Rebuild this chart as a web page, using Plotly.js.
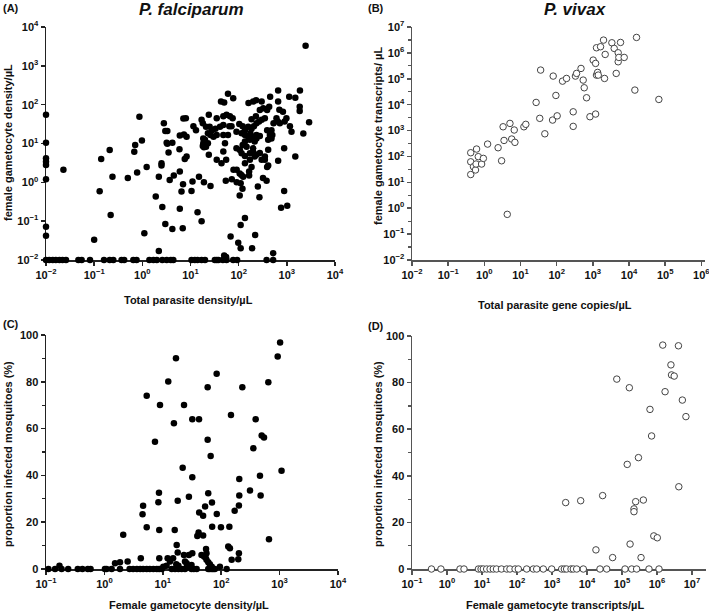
<!DOCTYPE html>
<html>
<head>
<meta charset="utf-8">
<script src="https://cdn.plot.ly/plotly-3.0.1.min.js"></script>
<style>
  html, body { margin: 0; padding: 0; background: #fff; }
  #chart { width: 709px; height: 614px; }
</style>
</head>
<body>
<div id="chart"></div>
<script>
// (A) P. falciparum: total parasite density vs female gametocyte density, [x, y]
const pfDensity = [
    [0.01, 55], [0.01, 10.5], [0.01, 4.2], [0.01, 3.4], [0.01, 2.8], [0.01, 1.2], [0.01, 0.072], [0.01, 0.042],
    [0.023, 2.1], [0.1, 0.033], [0.14, 4.0], [0.13, 0.59], [0.21, 6.8], [0.22, 0.145], [0.24, 1.4], [0.5, 1.3],
    [0.68, 6.1], [0.71, 9.2], [0.78, 1.8], [0.87, 49], [0.98, 12], [1.1, 0.049], [1.23, 2.5], [1.9, 0.43],
    [2.2, 1.4], [2.2, 0.017], [2.5, 2.7], [2.5, 3.1], [2.6, 0.23], [2.8, 33], [3.0, 21], [3.3, 21], [3.0, 0.085],
    [3.2, 10.5], [3.3, 9.8], [3.5, 5.9], [3.7, 1.15], [4.2, 0.063], [4.2, 10.5], [4.5, 1.5], [5.9, 7.1], [6.0, 16],
    [6.0, 1.9], [6.0, 0.21], [6.5, 0.58], [6.9, 0.066], [7.0, 0.89], [7.1, 44], [8.0, 45], [7.3, 17], [7.6, 4.0],
    [8.3, 4.6], [8.3, 15], [11, 1.05], [10.5, 0.6], [11.5, 28], [13, 22], [14, 0.17], [15, 1.4],
    [2450, 3300], [60, 190], [77, 147], [43, 120], [50, 113], [160, 110], [200, 120], [230, 130], [300, 120],
    [450, 160], [660, 230], [660, 120], [1120, 160], [1500, 150], [1870, 230], [1850, 89], [1850, 69],
    [2900, 35], [2200, 18], [1160, 28], [1250, 20], [980, 45], [830, 66], [700, 74], [880, 7.6], [660, 3.6],
    [1500, 4.6], [880, 0.6], [760, 0.22], [1020, 0.25], [410, 6.9], [350, 4.6], [410, 2.7], [320, 1.3],
    [380, 1.1], [250, 0.78], [270, 0.41], [220, 0.044], [190, 0.02], [520, 0.015], [135, 0.12], [110, 0.08],
    [98, 0.028], [110, 0.02], [68, 0.04], [17, 0.10], [54, 1.1], [78, 2.1], [91, 2.1], [72, 1.2], [91, 1.0],
    [105, 1.7], [114, 1.55], [124, 1.4], [110, 0.95], [120, 0.68], [105, 0.46], [165, 1.9], [165, 1.5],
    [19, 1.0], [26, 0.81], [50, 0.013], [55, 0.012],
    [17, 41], [24, 55], [35, 45], [48, 50], [56, 55], [66, 50], [75, 45], [185, 42], [228, 50], [275, 73],
    [324, 81], [390, 73], [430, 88], [610, 45],
    [18, 33], [21, 27], [25, 27], [28, 22], [33, 24], [41, 27], [48, 30], [64, 28], [71, 28], [103, 32],
    [121, 28], [135, 22], [158, 27], [185, 24], [207, 28], [234, 33], [265, 37], [300, 41], [350, 45],
    [390, 22], [480, 22], [530, 33], [650, 37], [716, 33], [900, 37],
    [18.4, 13.5], [20, 12.4], [23, 18.4], [26, 16.5], [30, 15], [35, 16.5], [48, 16.5], [60, 16.5], [90, 20],
    [115, 18.4], [135, 16.5], [158, 15], [175, 18.4], [200, 15], [234, 16.5], [275, 15.5], [444, 16.5],
    [500, 16.5], [410, 12.4], [480, 13.5],
    [18.4, 10.2], [21, 8.3], [23, 10.2], [52, 10.2], [135, 11.2], [171, 12.4], [215, 11.2], [234, 13.5],
    [121, 9.2], [146, 8.3], [200, 7.5], [90, 7.5], [106, 6.8], [18, 8.6], [19, 8], [24, 5.1], [35, 3.8],
    [44, 3.1], [48, 6.2], [55, 3.8], [115, 5.6], [135, 4.8], [171, 5.6], [200, 6.2], [234, 5.1], [275, 5.7],
    [135, 3.1], [171, 3.8], [185, 2.5], [215, 4.6], [300, 3.8], [350, 3.8], [390, 2.5],
    // no gametocytes detected (plotted at the axis floor)
    [0.01, 0.01], [0.0117, 0.01], [0.0138, 0.01], [0.016, 0.01], [0.019, 0.01], [0.022, 0.01], [0.026, 0.01],
    [0.047, 0.01], [0.055, 0.01], [0.082, 0.01], [0.16, 0.01], [0.21, 0.01], [0.25, 0.01], [0.37, 0.01],
    [0.42, 0.01], [0.65, 0.01], [0.76, 0.01], [1.4, 0.01], [1.7, 0.01], [2.0, 0.01], [2.6, 0.01], [3.2, 0.01],
    [3.9, 0.01], [4.4, 0.01], [10.5, 0.01], [12.3, 0.01], [14, 0.01], [17, 0.01], [20, 0.01], [32, 0.01],
    [35, 0.01], [38, 0.01], [47, 0.01], [56, 0.01], [77, 0.01], [93, 0.01], [380, 0.01], [520, 0.01]
];

// (B) P. vivax: total parasite gene copies vs female gametocyte transcripts, [x, y]
const pvCopies = [
    [0.42, 139], [0.42, 62], [0.42, 20], [0.50, 40], [0.57, 30], [0.59, 51], [0.61, 193], [0.68, 98],
    [0.84, 51], [0.94, 84], [1.23, 300], [2.4, 217], [3.0, 68], [3.3, 1400], [3.5, 415], [4.3, 0.58],
    [5.1, 1890], [5.7, 470], [6.7, 1050], [7.0, 350], [12.4, 1400], [14, 1740], [27, 12200], [34, 2960],
    [36, 217000], [47, 750], [77, 2540], [80, 127000], [95, 22700], [103, 3700], [145, 81000], [187, 103000],
    [286, 5300], [286, 1450], [330, 127000], [355, 161000], [470, 251000], [540, 89000], [577, 45000],
    [670, 18500], [830, 3420], [1020, 527000], [1190, 392000], [1190, 4340], [1260, 1580000], [1260, 139000],
    [1350, 176000], [1410, 139000], [1630, 1730000], [1970, 3120000], [2100, 103000], [2190, 872000],
    [3350, 2460000], [3890, 1490000], [4420, 161000], [5010, 1010000], [5010, 454000], [5230, 668000],
    [5820, 2530000], [7350, 668000], [14500, 36600], [16100, 3950000], [66700, 15900]
];

// (C) P. falciparum: female gametocyte density vs % infected mosquitoes, [x, y]
const pfInfection = [
    [1020, 96.8], [927, 90.8], [641, 79.8], [1080, 42.0], [658, 12.7], [16.8, 90.1], [12.4, 80.1], [83.6, 83.4],
    [58.6, 77.7], [230, 77.7], [5.3, 74.0], [8.95, 70.1], [23.1, 70.1], [15.5, 62.3], [32, 64.0], [41.7, 64.0],
    [147, 65.8], [389, 64.0], [7.35, 54.4], [58.6, 55.2], [493, 57.0], [541, 56.2], [66, 48.3], [355, 51.6],
    [21.9, 43.3], [32, 39.2], [461, 39.9], [204, 38.5], [8.6, 32.6], [60, 32.4], [311, 33.5], [473, 31.4],
    [8.4, 28.5], [18, 29.2], [28, 30.9], [69.5, 28.4], [204, 31.4], [4.6, 27.0], [201, 27.1], [53, 26.7],
    [4.5, 23.4], [42, 24.1], [49, 22.8], [170, 24.9], [84, 23.5], [5.3, 17.8], [8.7, 16.7], [16, 16.7],
    [70, 18.1], [99, 17.8], [138, 18.1], [2.1, 14.6], [41, 15.6], [39, 14.1], [49, 14.3], [17.3, 10.3],
    [18, 7.0], [55, 8.6], [56, 6.7], [132, 9.6], [141, 8.9], [201, 6.7], [151, 3.9], [196, 4.2], [32, 6.7],
    [28, 6.0], [23, 6.0], [24, 3.2], [25.6, 2.5], [12.1, 4.6], [13.3, 3.2], [15, 4.6], [8.7, 4.6], [4.2, 4.6],
    [1.52, 2.5], [1.85, 2.9], [2.5, 3.2], [46, 6.0], [51, 5.3], [56, 3.9], [60, 2.9], [64, 2.0], [69, 1.0],
    [54, 4.9], [17, 2.0], [18.5, 1.4], [26, 1.4], [28, 1.0], [31, 1.7], [0.17, 1.4], [95, 1.0], [10.2, 1.0],
    [11.6, 1.4],
    [0.11, 0], [0.143, 0], [0.185, 0], [0.24, 0], [0.35, 0], [0.42, 0], [0.52, 0], [0.58, 0], [1.02, 0],
    [1.09, 0], [1.33, 0], [1.85, 0], [2.7, 0], [3.1, 0], [3.6, 0], [4.1, 0], [4.6, 0], [5.3, 0], [6.0, 0],
    [6.9, 0], [7.9, 0], [8.7, 0], [9.6, 0], [14.2, 0], [16.2, 0], [18.5, 0], [21, 0], [24, 0], [31, 0],
    [34, 0], [38, 0], [60, 0], [64, 0], [69, 0], [73, 0], [78, 0], [124, 0]
];

// (D) P. vivax: female gametocyte transcripts vs % infected mosquitoes, [x, y]
const pvInfection = [
    [1.46e6, 96.1], [4.1e6, 95.8], [2.5e6, 87.6], [2.6e6, 83.3], [3.1e6, 82.8], [71000, 81.5], [162000, 77.8],
    [1.7e6, 76.1], [5.3e6, 72.5], [630000, 68.5], [6.7e6, 65.4], [700000, 57.1], [295000, 47.8], [141000, 44.9],
    [4.2e6, 35.3], [28000, 31.5], [2460, 28.5], [6600, 29.3], [246000, 28.9], [407000, 29.6], [220000, 25.8],
    [220000, 24.6], [18000, 8.2], [170000, 10.7], [810000, 14.2], [1.02e6, 13.4], [54000, 4.9], [350000, 4.9],
    [0.36, 0], [0.67, 0], [2.35, 0], [3.06, 0], [7.9, 0], [9.4, 0], [10.9, 0], [13.6, 0], [17, 0], [21, 0],
    [26, 0], [36, 0], [51, 0], [63, 0], [88, 0], [109, 0], [189, 0], [293, 0], [365, 0], [565, 0], [980, 0],
    [1890, 0], [2250, 0], [2620, 0], [3490, 0], [4070, 0], [5070, 0], [7850, 0], [23500, 0], [36500, 0],
    [122000, 0], [189000, 0], [262000, 0], [590000, 0], [1.14e6, 0]
];

// tick exponents for the log axes
const expAx = [-2, -1, 0, 1, 2, 3, 4];
const expAy = [-2, -1, 0, 1, 2, 3, 4];
const expBx = [-2, -1, 0, 1, 2, 3, 4, 5, 6];
const expBy = [-2, -1, 0, 1, 2, 3, 4, 5, 6, 7];
const expCx = [-1, 0, 1, 2, 3, 4];
const expDx = [-1, 0, 1, 2, 3, 4, 5, 6, 7];
const pctTicks = [0, 20, 40, 60, 80, 100];

const W = 709, H = 614;
const FONT = 'Liberation Sans, Arial, Helvetica, sans-serif';

function hx(px) { return px / W; }
function vy(py) { return 1 - py / H; }

function powText(e) {
    return '10<sup>' + (e < 0 ? '\u2212' + (-e) : e) + '</sup>';
}

function logAxis(exps, range, domain, color) {
    return {
        type: 'log',
        range: range,
        domain: domain,
        tickmode: 'array',
        tickvals: exps.map(e => Math.pow(10, e)),
        ticktext: exps.map(powText),
        showline: true, linecolor: color, linewidth: 1.5,
        ticks: 'outside', ticklen: 4, tickwidth: 1.5, tickcolor: color,
        showgrid: false, zeroline: false,
        tickfont: { family: FONT, size: 11, color: '#111', weight: 'bold' },
        ticklabeloverflow: 'allow',
        layer: 'below traces',
        fixedrange: true
    };
}

function pctAxis(domain, color) {
    return {
        range: [0, 100],
        domain: domain,
        tickmode: 'array',
        tickvals: pctTicks,
        showline: true, linecolor: color, linewidth: 1.5,
        ticks: 'outside', ticklen: 4, tickwidth: 1.5, tickcolor: color,
        minor: { dtick: 10, ticks: 'outside', ticklen: 3, tickwidth: 1.2, tickcolor: color },
        showgrid: false, zeroline: false,
        tickfont: { family: FONT, size: 11, color: '#111', weight: 'bold' },
        layer: 'below traces',
        fixedrange: true
    };
}

const filled = { size: 6.5, color: '#000' };
const hollow = { size: 6.5, color: '#fff', line: { color: '#444', width: 1 } };

function trace(pairs, xa, ya, marker) {
    return {
        type: 'scatter', mode: 'markers',
        x: pairs.map(p => p[0]), y: pairs.map(p => p[1]),
        xaxis: xa, yaxis: ya, marker: marker, cliponaxis: false, hoverinfo: 'x+y'
    };
}

const data = [
    trace(pfDensity, 'x', 'y', filled),
    trace(pvCopies, 'x2', 'y2', hollow),
    trace(pfInfection, 'x3', 'y3', filled),
    trace(pvInfection, 'x4', 'y4', hollow)
];

function note(text, px, py, size, angle) {
    return {
        text: text, xref: 'paper', yref: 'paper', x: hx(px), y: vy(py),
        xanchor: 'center', yanchor: 'middle', showarrow: false, textangle: angle || 0,
        font: { family: FONT, size: size, color: '#111' }
    };
}

const yB = logAxis(expBy, [-2, 7], [vy(260), vy(27)], '#555');
yB.minor = {
    tickmode: 'array',
    tickvals: expBy.slice(0, -1).map(e => Math.pow(10, e + 0.5)),
    ticks: 'outside', ticklen: 3, tickwidth: 1.2, tickcolor: '#555'
};

const layout = {
    width: W, height: H,
    margin: { l: 0, r: 0, t: 0, b: 0 },
    paper_bgcolor: '#fff', plot_bgcolor: '#fff',
    showlegend: false,
    xaxis: Object.assign(logAxis(expAx, [-2, 4], [hx(46), hx(335)], '#222'), { anchor: 'y' }),
    yaxis: Object.assign(logAxis(expAy, [-2, 4], [vy(260), vy(27)], '#222'), { anchor: 'x' }),
    xaxis2: Object.assign(logAxis(expBx, [-2, 6.1], [hx(412), hx(705)], '#555'), { anchor: 'y2' }),
    yaxis2: Object.assign(yB, { anchor: 'x2' }),
    xaxis3: Object.assign(logAxis(expCx, [-1, 4], [hx(46), hx(338)], '#222'), { anchor: 'y3' }),
    yaxis3: Object.assign(pctAxis([vy(569), vy(335)], '#222'), { anchor: 'x3' }),
    xaxis4: Object.assign(logAxis(expDx, [-1, 7.4], [hx(412), hx(706)], '#555'), { anchor: 'y4' }),
    yaxis4: Object.assign(pctAxis([vy(569), vy(336)], '#555'), { anchor: 'x4' }),
    annotations: [
        note('<b>(A)</b>', 11, 8, 11),
        note('<b>(B)</b>', 376, 8, 11),
        note('<b>(C)</b>', 11, 324, 11),
        note('<b>(D)</b>', 376, 326, 11),
        note('<b><i>P. falciparum</i></b>', 191, 9, 17),
        note('<b><i>P. vivax</i></b>', 575, 9, 17),
        note('<b>Total parasite density/µL</b>', 189, 300, 11),
        note('<b>Total parasite gene copies/µL</b>', 555, 305, 11),
        note('<b>Female gametocyte density/µL</b>', 189, 605, 11),
        note('<b>Female gametocyte transcripts/µL</b>', 555, 605, 11),
        note('<b>female gametocyte density/µL</b>', 8, 143, 11, -90),
        note('<b>female gametocyte transcripts/ µL</b>', 378, 136, 11, -90),
        note('<b>proportion infected mosquitoes (%)</b>', 8, 454, 11, -90),
        note('<b>proportion infected mosquitoes (%)</b>', 378, 454, 11, -90)
    ]
};

Plotly.newPlot('chart', data, layout, { displayModeBar: false, staticPlot: true });
</script>
</body>
</html>
